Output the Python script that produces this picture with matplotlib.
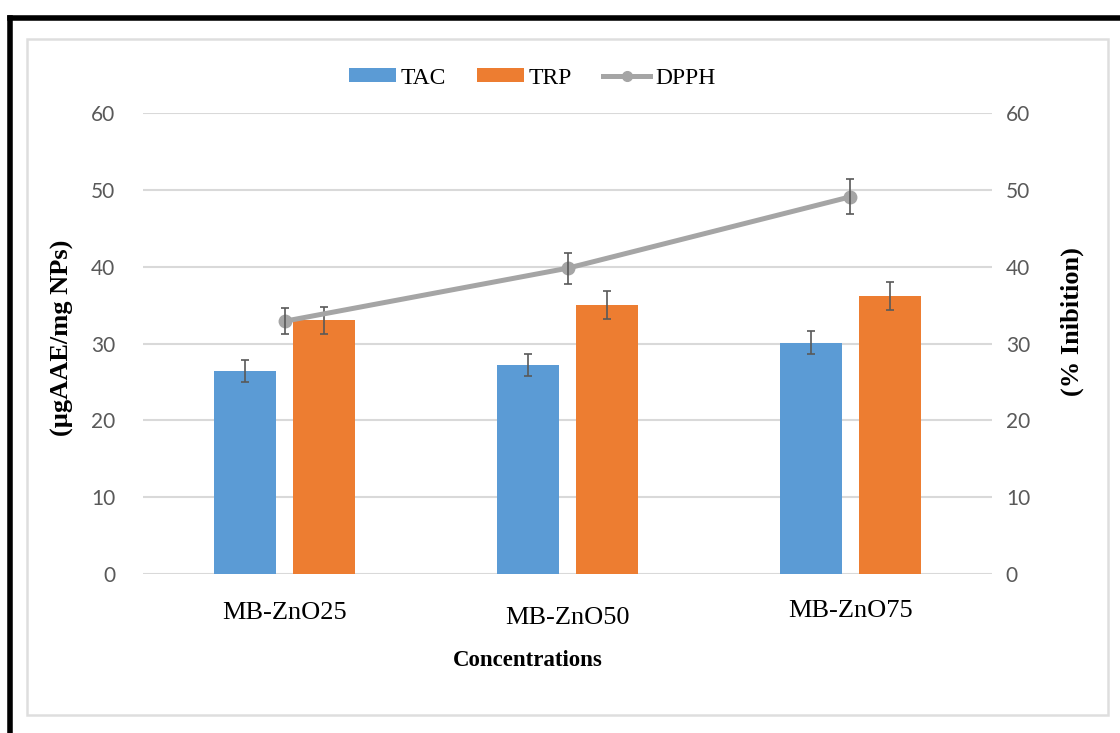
import matplotlib
matplotlib.use('Agg')
import matplotlib.pyplot as plt
import numpy as np
from matplotlib.patches import Patch, Rectangle
from matplotlib.lines import Line2D
from matplotlib.transforms import blended_transform_factory

# Antioxidant assays for the three nanoparticle concentrations
samples = ['MB-ZnO25', 'MB-ZnO50', 'MB-ZnO75']
tac = [26.4, 27.2, 30.1]
tac_err = [1.4, 1.4, 1.5]
trp = [33.0, 35.0, 36.2]
trp_err = [1.7, 1.8, 1.8]
dpph = [32.9, 39.8, 49.1]
dpph_err = [1.7, 2.0, 2.3]

blue = '#5B9BD5'
orange = '#ED7D31'
gray = '#A5A5A5'
err_col = '#595959'
tick_col = '#595959'

serif = 'Liberation Serif'
num_font = 'Lato'

fig = plt.figure(figsize=(11.2, 7.33), dpi=100)
ax = fig.add_axes([0.1277, 0.2169, 0.758, 0.6289])

x = np.arange(len(samples))
w = 0.22
off = 0.14

ax.bar(x - off, tac, w, color=blue, zorder=3)
ax.bar(x + off, trp, w, color=orange, zorder=3)
ax.errorbar(x - off, tac, yerr=tac_err, fmt='none', ecolor=err_col,
            elinewidth=1.2, capsize=3.2, capthick=1.2, zorder=4)
ax.errorbar(x + off, trp, yerr=trp_err, fmt='none', ecolor=err_col,
            elinewidth=1.2, capsize=3.2, capthick=1.2, zorder=4)

ax.set_xlim(-0.5, 2.5)
ax.set_ylim(0, 60)
ax.set_yticks(np.arange(0, 61, 10))
ax.grid(axis='y', color='#D9D9D9', linewidth=1.5, zorder=0)
ax.set_axisbelow(True)
for s in ax.spines.values():
    s.set_visible(False)
ax.tick_params(axis='y', length=0, pad=20, labelcolor=tick_col, labelsize=15)
ax.tick_params(axis='x', length=0, labelbottom=False)
for lab in ax.get_yticklabels():
    lab.set_fontfamily(num_font)

# secondary axis for DPPH inhibition
ax2 = ax.twinx()
ax2.set_ylim(0, 60)
ax2.set_yticks(np.arange(0, 61, 10))
for s in ax2.spines.values():
    s.set_visible(False)
ax2.tick_params(axis='y', length=0, pad=10, labelcolor=tick_col, labelsize=15)
for lab in ax2.get_yticklabels():
    lab.set_fontfamily(num_font)
ax2.plot(x, dpph, color=gray, linewidth=3.6, marker='o', markersize=9,
         zorder=5)
ax2.errorbar(x, dpph, yerr=dpph_err, fmt='none', ecolor=err_col,
             elinewidth=1.2, capsize=3.2, capthick=1.2, zorder=6)

# category labels (drawn as text so each can sit at its own height)
trans = blended_transform_factory(ax.transData, ax.transAxes)
label_drop = [0.085, 0.095, 0.08]
for xi, name, d in zip(x, samples, label_drop):
    ax.text(xi, -d, name, transform=trans, ha='center', va='center',
            fontsize=19, fontfamily=serif, color='black')

fig.text(0.4715, 1 - 660 / 733, 'Concentrations', ha='center', va='center',
         fontsize=16.5, fontweight='bold', fontfamily=serif)
fig.text(62 / 1120, 1 - 338 / 733, '(µgAAE/mg NPs)', rotation=90,
         ha='center', va='center', fontsize=19, fontweight='bold',
         fontfamily=serif)
fig.text(1072 / 1120, 1 - 322 / 733, '(% Inibition)', rotation=90,
         ha='center', va='center', fontsize=19, fontweight='bold',
         fontfamily=serif)

handles = [Patch(facecolor=blue), Patch(facecolor=orange),
           Line2D([0], [0], color=gray, linewidth=3.6, marker='o',
                  markersize=7)]
fig.legend(handles, ['TAC', 'TRP', 'DPPH'], loc='center',
           bbox_to_anchor=(0.475, 1 - 78 / 733), ncol=3, frameon=False,
           prop={'family': serif, 'size': 17}, handlelength=2.0,
           handleheight=0.55, handletextpad=0.2, columnspacing=1.3)

# inner light frame and outer black border
fig.patches.append(Rectangle((27 / 1120, 1 - 715 / 733), (1108 - 27) / 1120,
                             (715 - 39) / 733, transform=fig.transFigure,
                             fill=False, edgecolor='#DEDEDE', linewidth=1.8))
fig.lines.append(Line2D([10 / 1120, 1.0], [1 - 18 / 733, 1 - 18 / 733],
                        transform=fig.transFigure, color='black',
                        linewidth=4))
fig.lines.append(Line2D([10 / 1120, 10 / 1120], [0, 1 - 18 / 733],
                        transform=fig.transFigure, color='black',
                        linewidth=4))

fig.savefig('out.png', dpi=100, facecolor='white')
